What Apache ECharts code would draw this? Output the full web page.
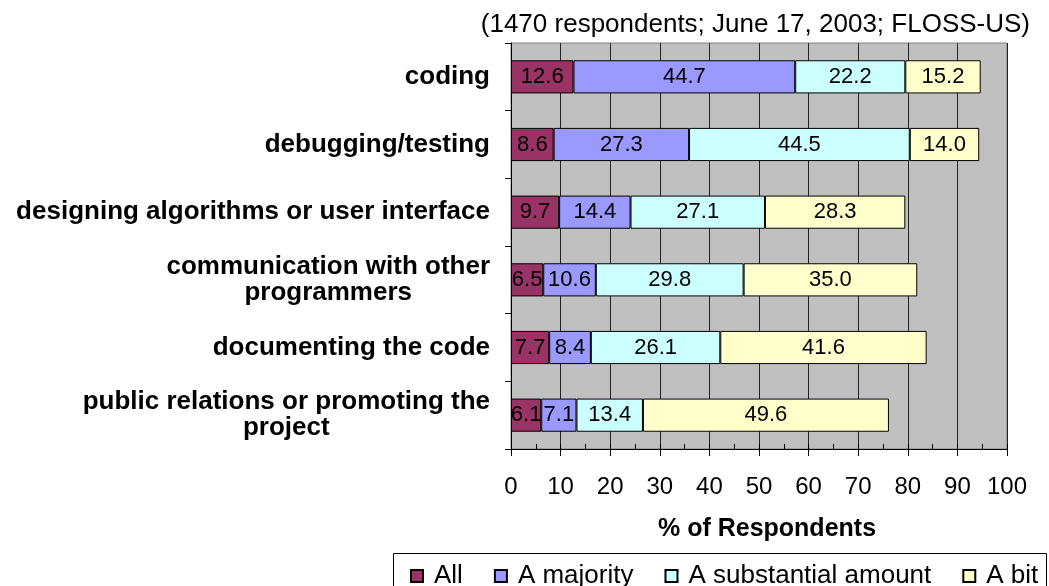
<!DOCTYPE html>
<html>
<head>
<meta charset="utf-8">
<script src="https://cdn.jsdelivr.net/npm/echarts@6/dist/echarts.min.js"></script>
<style>
html,body{margin:0;padding:0;background:#fff;}
#chart{width:1049px;height:586px;}
</style>
</head>
<body>
<div id="chart"></div>
<script>
var categories = [
  'coding',
  'debugging/testing',
  'designing algorithms or user interface',
  'communication with other\nprogrammers',
  'documenting the code',
  'public relations or promoting the\nproject'
];
var seriesNames = ['All', 'A majority', 'A substantial amount', 'A bit'];
var allValues = [12.6, 8.6, 9.7, 6.5, 7.7, 6.1];
var majorityValues = [44.7, 27.3, 14.4, 10.6, 8.4, 7.1];
var substantialValues = [22.2, 44.5, 27.1, 29.8, 26.1, 13.4];
var bitValues = [15.2, 14.0, 28.3, 35.0, 41.6, 49.6];
var xTicks = [0, 10, 20, 30, 40, 50, 60, 70, 80, 90, 100];
var colors = ['#993366', '#9999ff', '#ccffff', '#ffffcc'];
var titleText = '(1470 respondents; June 17, 2003; FLOSS-US)';
var axisTitle = '% of Respondents';

var FONT = '"Liberation Sans", Arial, sans-serif';
var valueSets = [allValues, majorityValues, substantialValues, bitValues];

var series = seriesNames.map(function (name, i) {
  return {
    name: name,
    type: 'bar',
    stack: 'total',
    xAxisIndex: 0,
    yAxisIndex: 0,
    barWidth: '49%',
    data: valueSets[i],
    itemStyle: { color: colors[i], borderColor: '#000', borderWidth: 1 },
    label: {
      show: true,
      position: 'inside',
      color: '#000',
      fontFamily: FONT,
      fontSize: 22,
      formatter: function (p) { return p.value.toFixed(1); }
    },
    emphasis: { disabled: true }
  };
});

var chart = echarts.init(document.getElementById('chart'), null, { renderer: 'canvas' });
chart.setOption({
  animation: false,
  backgroundColor: '#fff',
  title: {
    text: titleText,
    right: 14,
    top: 7,
    textStyle: { fontFamily: FONT, fontSize: 26, fontWeight: 'normal', color: '#000' }
  },
  grid: {
    left: 511, right: 42, top: 43, bottom: 137,
    show: true, backgroundColor: '#c0c0c0', borderColor: '#808080', borderWidth: 1
  },
  legend: {
    data: seriesNames,
    left: 406, top: 559,
    icon: 'rect',
    itemWidth: 12, itemHeight: 12,
    itemGap: 31,
    padding: [4, 8, 4, 4],
    textStyle: { fontFamily: FONT, fontSize: 26, color: '#000', padding: [0, 0, 0, 6] }
  },
  graphic: [{
    type: 'rect',
    shape: { x: 393.5, y: 553.5, width: 653, height: 40 },
    style: { fill: 'none', stroke: '#000', lineWidth: 1 },
    z: 100
  }],
  xAxis: [{
    type: 'value',
    min: xTicks[0], max: xTicks[xTicks.length - 1], interval: 10,
    name: axisTitle,
    nameLocation: 'middle',
    nameGap: 68,
    nameTextStyle: { fontFamily: FONT, fontSize: 25, fontWeight: 'bold', color: '#000', padding: [0, 0, 0, 16] },
    axisLine: { show: true, lineStyle: { color: '#000', width: 1 } },
    axisTick: { show: true, inside: false, length: 7, lineStyle: { color: '#000' } },
    axisLabel: { fontFamily: FONT, fontSize: 24, color: '#000', margin: 26 },
    splitLine: { show: true, lineStyle: { color: '#222', width: 1 } }
  }, {
    type: 'value',
    min: xTicks[0], max: xTicks[xTicks.length - 1], interval: 5,
    position: 'bottom',
    axisLine: { show: false },
    axisTick: { show: true, inside: true, length: 5, lineStyle: { color: '#000' } },
    axisLabel: { show: false },
    splitLine: { show: false }
  }],
  yAxis: {
    type: 'category',
    inverse: true,
    data: categories,
    axisLine: { show: true, lineStyle: { color: '#000', width: 1 } },
    axisTick: { show: true, length: 6, lineStyle: { color: '#000' } },
    axisLabel: {
      margin: 21,
      align: 'right',
      formatter: function (v) {
        return v.split('\n').map(function (l) { return '{c|' + l + '}'; }).join('\n');
      },
      rich: {
        c: { align: 'center', fontFamily: FONT, fontSize: 26, fontWeight: 'bold', color: '#000', lineHeight: 26 }
      }
    },
    splitLine: { show: false }
  },
  series: series
});
</script>
</body>
</html>
